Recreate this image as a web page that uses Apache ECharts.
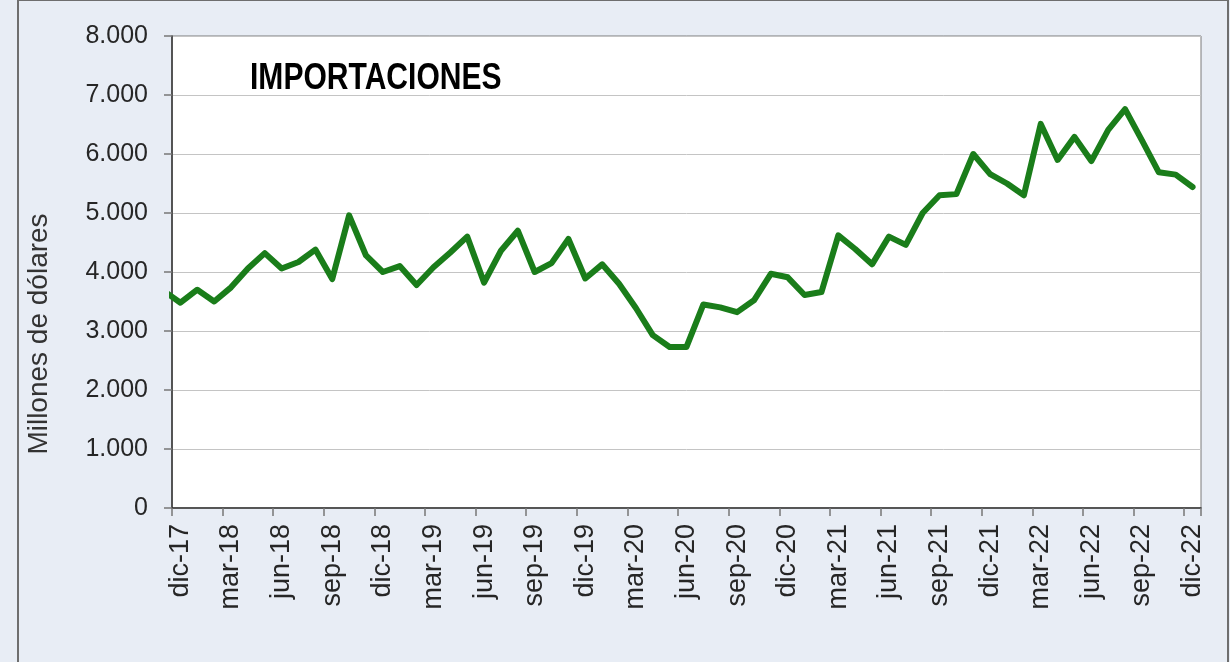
<!DOCTYPE html>
<html>
<head>
<meta charset="utf-8">
<script src="https://cdn.jsdelivr.net/npm/echarts@6/dist/echarts.min.js"></script>
<style>
  html, body { margin: 0; padding: 0; background: #E8EDF5; }
  #chart { width: 1230px; height: 662px; }
</style>
</head>
<body>
<div id="chart"></div>
<script>
// Months (dic-17 .. dic-22)
const categories = [
  'dic-17',
  'ene-18','feb-18','mar-18','abr-18','may-18','jun-18','jul-18','ago-18','sep-18','oct-18','nov-18','dic-18',
  'ene-19','feb-19','mar-19','abr-19','may-19','jun-19','jul-19','ago-19','sep-19','oct-19','nov-19','dic-19',
  'ene-20','feb-20','mar-20','abr-20','may-20','jun-20','jul-20','ago-20','sep-20','oct-20','nov-20','dic-20',
  'ene-21','feb-21','mar-21','abr-21','may-21','jun-21','jul-21','ago-21','sep-21','oct-21','nov-21','dic-21',
  'ene-22','feb-22','mar-22','abr-22','may-22','jun-22','jul-22','ago-22','sep-22','oct-22','nov-22','dic-22'
];
// Imports, millions of dollars
const importaciones = [
  3480,
  3700, 3500, 3740, 4060, 4320, 4060, 4170, 4380, 3880, 4960, 4280, 4000,
  4100, 3780, 4080, 4330, 4600, 3820, 4360, 4700, 4000, 4150, 4560, 3890,
  4130, 3800, 3390, 2930, 2730, 2730, 3450, 3400, 3320, 3520, 3970, 3910,
  3610, 3660, 4620, 4390, 4130, 4600, 4460, 5000, 5300, 5320, 6000, 5660,
  5500, 5300, 6510, 5900, 6290, 5880, 6410, 6760, 6230, 5690, 5650, 5440
];
// nov-17 value, only visible as the clipped segment at the left edge
const previousValue = [3680];
const yTicks = [0, 1000, 2000, 3000, 4000, 5000, 6000, 7000, 8000];
const chartTitle = 'IMPORTACIONES';
const yAxisName = 'Millones de dólares';

const seriesData = [[-1, previousValue[0]]].concat(importaciones.map((v, i) => [i, v]));

const chart = echarts.init(document.getElementById('chart'), null, { renderer: 'canvas' });
const fmt = v => String(v).replace(/\B(?=(\d{3})+(?!\d))/g, '.');

chart.setOption({
  backgroundColor: '#E8EDF5',
  animation: false,
  graphic: [
    {
      type: 'rect',
      z: -10,
      shape: { x: 18, y: 0, width: 1210, height: 672 },
      style: { fill: 'none', stroke: '#6E6E6E', lineWidth: 2 }
    },
    {
      type: 'text',
      z: 100,
      x: 250, y: 79,
      scaleX: 0.835,
      style: {
        text: chartTitle,
        fontFamily: 'Liberation Sans, Arial, sans-serif',
        fontWeight: 'bold',
        fontSize: 36,
        fill: '#000000',
        align: 'left',
        verticalAlign: 'middle'
      }
    },
    {
      type: 'text',
      z: 100,
      x: 39, y: 334,
      rotation: Math.PI / 2,
      style: {
        text: yAxisName,
        fontFamily: 'Liberation Sans, Arial, sans-serif',
        fontSize: 28,
        fill: '#333333',
        align: 'center',
        verticalAlign: 'middle'
      }
    }
  ],
  grid: {
    left: 172, top: 36, right: 29, bottom: 154,
    show: true,
    backgroundColor: '#FFFFFF',
    borderColor: '#7A7A7A',
    borderWidth: 1
  },
  xAxis: [
    {
      type: 'category',
      data: categories,
      boundaryGap: true,
      axisLine: { show: true, onZero: false, lineStyle: { color: '#333333', width: 1.5 } },
      axisTick: { show: true, interval: 2, length: 8, lineStyle: { color: '#777777', width: 1.5 } },
      axisLabel: {
        interval: 2, rotate: 90, margin: 16,
        fontFamily: 'Liberation Sans, Arial, sans-serif',
        fontSize: 27, color: '#262626'
      },
      splitLine: { show: false }
    },
    {
      type: 'value',
      min: -0.5, max: 60.5,
      show: false,
      axisLine: { onZero: false },
      splitLine: { show: false }
    }
  ],
  yAxis: {
    type: 'value',
    min: 0, max: 8000, interval: 1000,
    axisLine: { show: true, onZero: false, lineStyle: { color: '#333333', width: 1.5 } },
    axisTick: { show: true, length: 8, lineStyle: { color: '#777777', width: 1.5 } },
    axisLabel: {
      margin: 24,
      fontFamily: 'Liberation Sans, Arial, sans-serif',
      fontSize: 25, color: '#262626',
      formatter: v => yTicks.indexOf(v) >= 0 ? fmt(v) : ''
    },
    splitLine: { show: true, lineStyle: { color: '#C4C4C4', width: 1 } }
  },
  series: [
    {
      type: 'line',
      xAxisIndex: 1,
      data: seriesData,
      clip: true,
      showSymbol: false,
      smooth: false,
      lineStyle: { color: '#1A7D1A', width: 6, cap: 'round', join: 'round' },
      itemStyle: { color: '#1A7D1A' }
    }
  ]
});
</script>
</body>
</html>
